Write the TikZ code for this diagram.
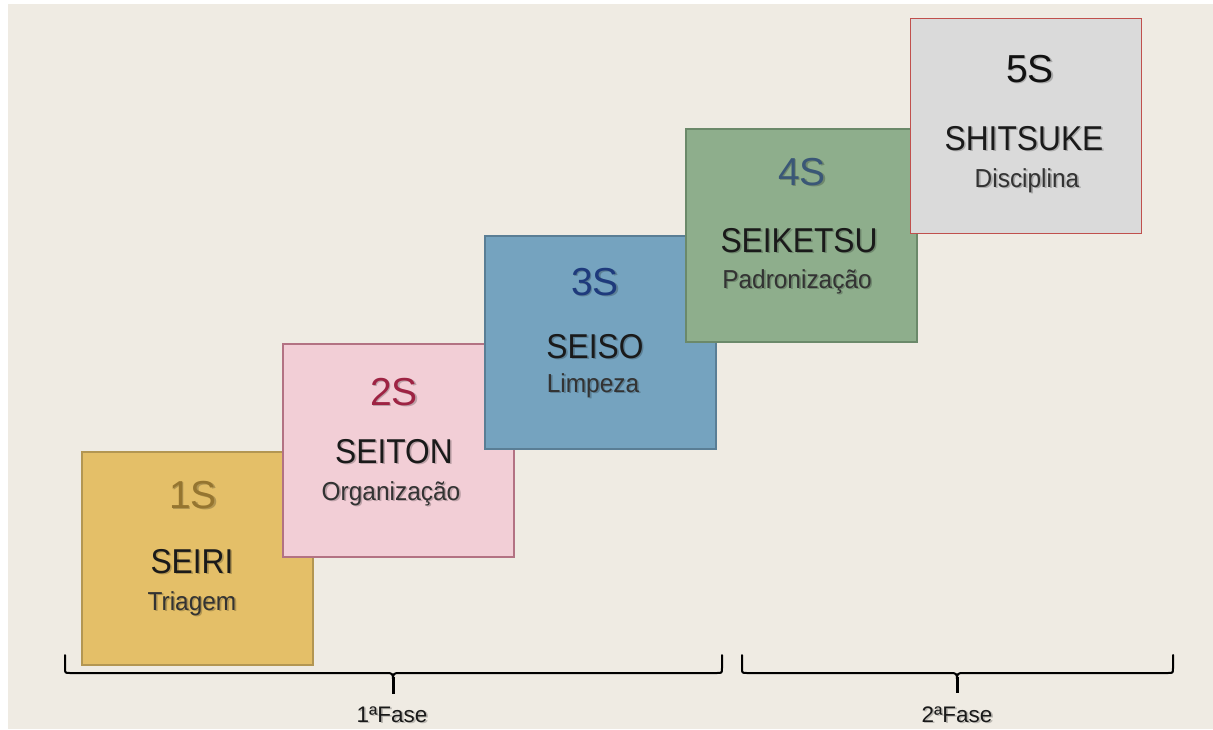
\documentclass[tikz,border=0pt]{standalone}
\usepackage{fontspec}
\setmainfont{Liberation Sans}
\newfontfamily\namefont[FakeStretch=0.92]{Liberation Sans}
\newfontfamily\subfont[FakeStretch=0.94]{Liberation Sans}
\usetikzlibrary{calc}

\definecolor{paper}{HTML}{EFEBE3}
\definecolor{fillA}{HTML}{E4BF68}\definecolor{lineA}{HTML}{B39652}\definecolor{numA}{HTML}{957530}
\definecolor{fillB}{HTML}{F2CED6}\definecolor{lineB}{HTML}{B37283}\definecolor{numB}{HTML}{9E2343}
\definecolor{fillC}{HTML}{75A3BF}\definecolor{lineC}{HTML}{5A7E95}\definecolor{numC}{HTML}{1E3A7C}
\definecolor{fillD}{HTML}{8EAE8C}\definecolor{lineD}{HTML}{6B896A}\definecolor{numD}{HTML}{3A5777}
\definecolor{fillE}{HTML}{DADADA}\definecolor{lineE}{HTML}{C0504D}\definecolor{numE}{HTML}{111111}
\definecolor{ink}{HTML}{1A1A1A}
\definecolor{subink}{HTML}{333333}

\tikzset{
  sbox/.style={draw, line width=2pt, minimum width=231pt, minimum height=213pt, inner sep=0pt},
  txt/.style={anchor=base, inner sep=0pt, outer sep=0pt},
  brc/.style={draw=black, line width=2pt, line cap=round},
}

% text with a soft drop shadow: name, position, font, colour, text
\newcommand{\shadowlabel}[5]{%
  \node[txt, font=#3, text=black, opacity=0.22] (#1-sh) at ($(#2)+(1.6,1.6)$) {#5};
  \node[txt, font=#3, text=#4] (#1) at (#2) {#5};
}
\newcommand{\numsize}{\fontsize{39}{39}\selectfont}
\newcommand{\namesize}{\namefont\fontsize{34.5}{34.5}\selectfont}
\newcommand{\subsize}{\subfont\fontsize{26}{26}\selectfont}
\newcommand{\phasesize}{\fontsize{22.5}{22.5}\selectfont}

% phase brace: left x, middle x, right x, top y, bar y, tip y
\newcommand{\phasebrace}[6]{%
  \draw[brc] (#1,#4) -- (#1,#5-5) .. controls (#1,#5) .. (#1+5,#5) -- (#2-6,#5)
     .. controls (#2-1,#5) and (#2,#5+1) .. (#2,#5+6);
  \draw[brc] (#3,#4) -- (#3,#5-5) .. controls (#3,#5) .. (#3-5,#5) -- (#2+6,#5)
     .. controls (#2+1,#5) and (#2,#5+1) .. (#2,#5+6);
  \draw[brc, line width=3pt, line cap=butt] (#2,#5+4) -- (#2,#6);
}

\begin{document}
\begin{tikzpicture}[x=1pt, y=-1pt]
\useasboundingbox (0,0) rectangle (1213,729);
\fill[white] (0,0) rectangle (1213,729);
\fill[paper] (8,4) rectangle (1213,729);

% the five steps, each one overlapping the previous
\node[sbox, fill=fillA, draw=lineA] (s1) at (197,558.5) {};
\node[sbox, fill=fillB, draw=lineB] (s2) at (398.5,450.5) {};
\node[sbox, fill=fillC, draw=lineC] (s3) at (600,342.5) {};
\node[sbox, fill=fillD, draw=lineD] (s4) at (801,235) {};
\node[sbox, fill=fillE, draw=lineE, line width=1.5pt, minimum height=215pt] (s5) at (1026,126) {};

% step 1
\shadowlabel{n1}{193,508}{\numsize}{numA}{1S}
\shadowlabel{t1}{192,573}{\namesize}{ink}{SEIRI}
\shadowlabel{d1}{192,610}{\subsize}{subink}{Triagem}
% step 2
\shadowlabel{n2}{394,405}{\numsize}{numB}{2S}
\shadowlabel{t2}{394,463}{\namesize}{ink}{SEITON}
\shadowlabel{d2}{391,500}{\subsize}{subink}{Organização}
% step 3
\shadowlabel{n3}{595,295}{\numsize}{numC}{3S}
\shadowlabel{t3}{595,358}{\namesize}{ink}{SEISO}
\shadowlabel{d3}{593,392}{\subsize}{subink}{Limpeza}
% step 4
\shadowlabel{n4}{802,185}{\numsize}{numD}{4S}
\shadowlabel{t4}{799,252}{\namesize}{ink}{SEIKETSU}
\shadowlabel{d4}{797,288}{\subsize}{subink}{Padronização}
% step 5
\shadowlabel{n5}{1030,82}{\numsize}{numE}{5S}
\shadowlabel{t5}{1024,150}{\namesize}{ink}{SHITSUKE}
\shadowlabel{d5}{1027,187}{\subsize}{subink}{Disciplina}

% phases
\phasebrace{65}{393}{722}{655}{673}{694}
\phasebrace{742}{957}{1173}{655}{673}{693}
\shadowlabel{f1}{392,722}{\phasesize}{ink}{1ªFase}
\shadowlabel{f2}{957,722}{\phasesize}{ink}{2ªFase}
\end{tikzpicture}
\end{document}
